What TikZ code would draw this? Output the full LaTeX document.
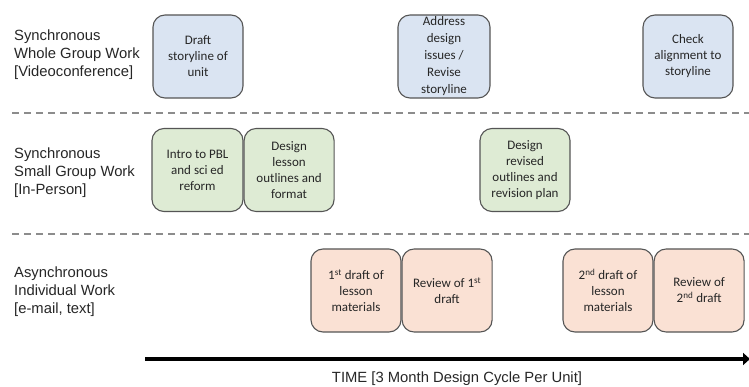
\documentclass[tikz,border=0pt]{standalone}
\usepackage{fontspec}
\setmainfont{Liberation Sans}
\newfontfamily\boxfont{Carlito}
\usepackage{xcolor}
\usetikzlibrary{positioning}
\usetikzlibrary{arrows.meta}
\definecolor{wholeblue}{RGB}{218,228,242}
\definecolor{smallgreen}{RGB}{222,235,212}
\definecolor{indivpeach}{RGB}{250,225,212}
\definecolor{boxline}{RGB}{85,85,85}

\begin{document}
\begin{tikzpicture}[x=1pt,y=-1pt,
      task/.style={draw=boxline,line width=1.1pt,rounded corners=12pt,
        minimum width=90pt,minimum height=83pt,inner sep=0pt,align=center,
        font=\boxfont\fontsize{13}{16}\selectfont,text=black!85},
      whole/.style={task,fill=wholeblue},
      small/.style={task,fill=smallgreen},
      indiv/.style={task,fill=indivpeach},
      rowlabel/.style={anchor=west,inner sep=0pt,align=left,
        font=\fontsize{14.8}{18}\selectfont,text=black!85},
      divider/.style={dash pattern=on 7pt off 5pt,line width=1.6pt,black!45}]

      \useasboundingbox (0,0) rectangle (749,387);

      \node[rowlabel] (whole label) at (14,55) {Synchronous\\Whole Group Work\\{[Videoconference]}};
      \node[rowlabel] (small label) at (14,173) {Synchronous\\Small Group Work\\{[In-Person]}};
      \node[rowlabel] (indiv label) at (14,292) {Asynchronous\\Individual Work\\{[e-mail, text]}};

      \coordinate (div1 w) at (12,113);
      \coordinate (div1 e) at (749,113);
      \coordinate (div2 w) at (12,234);
      \coordinate (div2 e) at (749,234);
      \draw[divider] (div1 w) -- (div1 e);
      \draw[divider] (div2 w) -- (div2 e);

      \node[whole] (draft) at (198,56.5) {Draft\\storyline of\\unit};
      \node[whole,minimum width=92pt,font=\boxfont\fontsize{13}{17}\selectfont] (address) at (444,56.5)
        {Address\\design\\issues /\\Revise\\storyline};
      \node[whole] (check) at (688,56.5) {Check\\alignment to\\storyline};

      \node[small,minimum width=91pt] (intro) at (197.5,170) {Intro to PBL\\and sci ed\\reform};
      \node[small,right=0pt of intro] (outline) {Design\\lesson\\outlines and\\format};
      \node[small] (revised) at (525,170) {Design\\revised\\outlines and\\revision plan};

      \node[indiv] (draft one) at (356,290.5) {1\textsuperscript{st} draft of\\lesson\\materials};
      \node[indiv,right=0pt of draft one] (review one) {Review of 1\textsuperscript{st}\\draft};
      \node[indiv] (draft two) at (608,290.5) {2\textsuperscript{nd} draft of\\lesson\\materials};
      \node[indiv,right=0pt of draft two] (review two) {Review of\\2\textsuperscript{nd} draft};

      \coordinate (time start) at (145,359);
      \coordinate (time end) at (750,359);
      \draw[line width=4pt,-{Triangle[length=7pt,width=12pt]}] (time start) -- (time end);
      \node[font=\fontsize{14.8}{18}\selectfont,text=black!85] (time label) at (457,379)
        {TIME [3 Month Design Cycle Per Unit]};
    \end{tikzpicture}
\end{document}
